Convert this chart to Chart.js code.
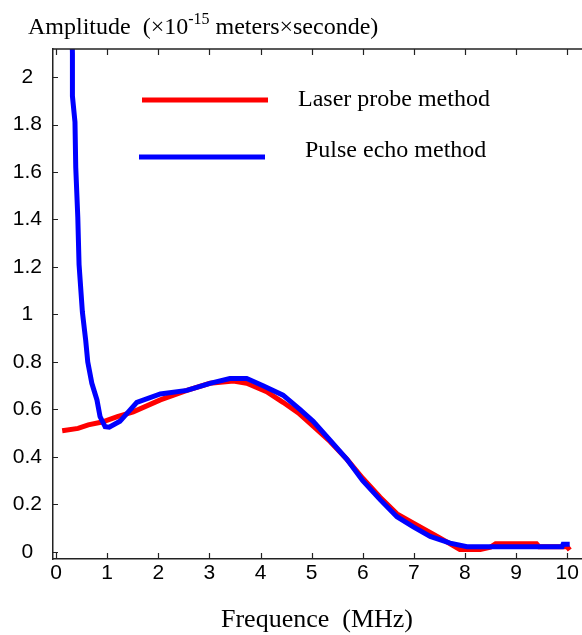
<!DOCTYPE html>
<html>
<head>
<meta charset="utf-8">
<script src="https://cdn.jsdelivr.net/npm/chart.js@4.4.1/dist/chart.umd.min.js"></script>
<style>
  body { margin: 0; background: #fff; }
  canvas { display: block; }
</style>
</head>
<body>
<canvas id="amp-plot" width="582" height="635"></canvas>
<script>
// laser probe curve
let laser_freq = [0.12, 0.43, 0.63, 0.9, 1.2, 1.51, 2.04, 2.56, 3.01, 3.47, 3.73, 4.12, 4.44, 4.74, 5.03, 5.36, 5.69, 6.0, 6.34, 6.67, 7.0, 7.5, 7.9, 8.3, 8.5, 8.6, 9.4, 9.45, 10.0, 10.05];
let laser_amp = [0.51, 0.52, 0.535, 0.547, 0.57, 0.59, 0.64, 0.68, 0.71, 0.72, 0.71, 0.675, 0.63, 0.585, 0.53, 0.465, 0.39, 0.31, 0.23, 0.16, 0.12, 0.06, 0.01, 0.01, 0.02, 0.034, 0.034, 0.022, 0.022, 0.008];
// pulse echo curve
let echo_freq = [0.30, 0.32, 0.32, 0.37, 0.385, 0.425, 0.45, 0.515, 0.58, 0.62, 0.70, 0.80, 0.86, 0.96, 1.04, 1.25, 1.58, 2.04, 2.56, 3.01, 3.4, 3.73, 4.05, 4.44, 4.77, 5.03, 5.36, 5.69, 6.0, 6.34, 6.67, 6.99, 7.32, 7.71, 8.04, 8.5, 9.0, 9.5, 9.9, 9.92, 10.05];
let echo_amp = [2.30, 2.10, 1.92, 1.81, 1.62, 1.41, 1.21, 1.01, 0.89, 0.80, 0.71, 0.64, 0.57, 0.527, 0.525, 0.55, 0.63, 0.665, 0.68, 0.71, 0.73, 0.73, 0.70, 0.66, 0.60, 0.55, 0.47, 0.39, 0.30, 0.22, 0.148, 0.105, 0.065, 0.037, 0.022, 0.022, 0.022, 0.022, 0.022, 0.032, 0.032];
// ticks
let x_ticks = [0, 1, 2, 3, 4, 5, 6, 7, 8, 9, 10];
let y_ticks = [0, 0.2, 0.4, 0.6, 0.8, 1, 1.2, 1.4, 1.6, 1.8, 2];
let legend_labels = ['Laser probe method', 'Pulse echo method'];

function to_points(xs, ys) {
    return xs.map((v, i) => ({ x: v, y: ys[i] }));
}

const serif = '"Liberation Serif", "Times New Roman", serif';
const sans = '"Liberation Sans", Arial, sans-serif';

// frame, inward ticks, title and hand placed legend
const frame_plugin = {
    id: 'frame',
    afterDraw(chart) {
        let ctx = chart.ctx;
        let area = chart.chartArea;
        let xs = chart.scales.x;
        let ys = chart.scales.y;
        ctx.save();
        ctx.strokeStyle = '#222';
        ctx.lineWidth = 1.5;
        ctx.beginPath();
        ctx.moveTo(area.left, area.top);
        ctx.lineTo(area.right, area.top);
        ctx.stroke();
        ctx.lineWidth = 1.2;
        ctx.beginPath();
        x_ticks.forEach(v => {
            let px = Math.round(xs.getPixelForValue(v)) + 0.5;
            ctx.moveTo(px, area.bottom);
            ctx.lineTo(px, area.bottom - 6);
            ctx.moveTo(px, area.top);
            ctx.lineTo(px, area.top + 6);
        });
        y_ticks.forEach(v => {
            let py = Math.round(ys.getPixelForValue(v)) + 0.5;
            ctx.moveTo(area.left, py);
            ctx.lineTo(area.left + 5, py);
        });
        ctx.stroke();

        // title with superscript
        ctx.fillStyle = '#000';
        ctx.textBaseline = 'alphabetic';
        ctx.textAlign = 'left';
        let tx = 28;
        ctx.font = '24px ' + serif;
        let part1 = 'Amplitude  (\u00d710';
        ctx.fillText(part1, tx, 34);
        tx += ctx.measureText(part1).width;
        ctx.font = '16px ' + serif;
        ctx.fillText('-15', tx, 24);
        tx += ctx.measureText('-15').width;
        ctx.font = '24px ' + serif;
        ctx.fillText(' meters\u00d7seconde)', tx, 34);

        // x axis title
        ctx.textAlign = 'center';
        ctx.textBaseline = 'middle';
        ctx.font = '26px ' + serif;
        ctx.fillText('Frequence  (MHz)', 317, 620);

        // legend
        let colors = ['#ff0000', '#0000ff'];
        let line_x = [[142, 268], [139, 265]];
        let line_y = [100, 157];
        let text_x = [298, 305];
        let text_y = [100, 151];
        ctx.lineWidth = 5;
        for (let i = 0; i < 2; i++) {
            ctx.strokeStyle = colors[i];
            ctx.beginPath();
            ctx.moveTo(line_x[i][0], line_y[i]);
            ctx.lineTo(line_x[i][1], line_y[i]);
            ctx.stroke();
            ctx.textAlign = 'left';
            ctx.font = '24px ' + serif;
            ctx.fillText(legend_labels[i], text_x[i], text_y[i]);
        }
        ctx.restore();
    }
};

let chart = new Chart(document.getElementById('amp-plot'), {
    type: 'scatter',
    data: {
        datasets: [
            {
                label: legend_labels[1],
                data: to_points(echo_freq, echo_amp),
                showLine: true,
                borderColor: '#0000ff',
                borderWidth: 5,
                pointRadius: 0,
                tension: 0,
                order: 0
            },
            {
                label: legend_labels[0],
                data: to_points(laser_freq, laser_amp),
                showLine: true,
                borderColor: '#ff0000',
                borderWidth: 5,
                pointRadius: 0,
                tension: 0,
                order: 1
            }
        ]
    },
    options: {
        responsive: false,
        animation: false,
        layout: { padding: { top: 49, left: 0, right: 0, bottom: 0 } },
        scales: {
            x: {
                type: 'linear',
                min: -0.06,
                max: 10.29,
                afterBuildTicks: s => { s.ticks = x_ticks.map(v => ({ value: v })); },
                afterFit: s => { s.height = 76; },
                grid: { display: false, drawTicks: false },
                border: { display: true, color: '#222', width: 1.5 },
                ticks: {
                    padding: 2,
                    color: '#000',
                    font: { family: sans, size: 21 },
                    maxRotation: 0,
                    callback: v => String(v)
                }
            },
            y: {
                type: 'linear',
                min: -0.03,
                max: 2.118,
                afterBuildTicks: s => { s.ticks = y_ticks.map(v => ({ value: v })); },
                afterFit: s => { s.width = 53; },
                grid: { display: false, drawTicks: false },
                border: { display: true, color: '#222', width: 1.5 },
                ticks: {
                    padding: 11,
                    crossAlign: 'center',
                    color: '#000',
                    font: { family: sans, size: 21 },
                    callback: v => String(Math.round(v * 10) / 10)
                }
            }
        },
        plugins: {
            legend: { display: false },
            tooltip: { enabled: false },
            title: { display: false }
        }
    },
    plugins: [frame_plugin]
});
</script>
</body>
</html>
